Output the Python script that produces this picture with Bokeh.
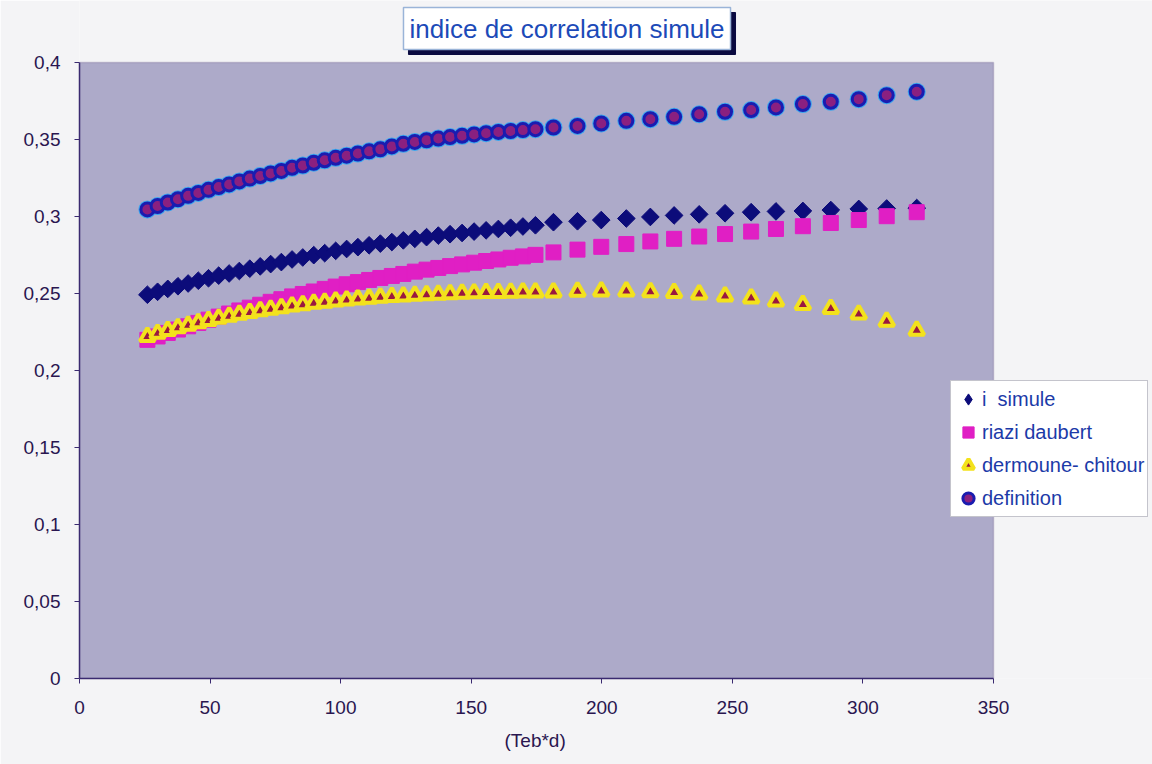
import numpy as np
from bokeh.plotting import figure
from bokeh.models import (Range1d, FixedTicker, CustomJSTickFormatter, Legend,
                          LegendItem, Label, BoxAnnotation, Title)
from bokeh.embed import file_html
from bokeh.resources import INLINE

# ---------------- data ----------------
teb_d = [26.0, 29.9, 33.8, 37.7, 41.6, 45.5, 49.4, 53.3, 57.3, 61.2, 65.2, 69.2,
         73.2, 77.3, 81.4, 85.5, 89.7, 93.9, 98.1, 102.3, 106.6, 110.9, 115.2, 119.6,
         124.0, 128.4, 132.9, 137.4, 141.9, 146.5, 151.1, 155.7, 160.4, 165.1, 169.8, 174.6,
         181.5, 190.7, 199.8, 209.4, 218.6, 227.7, 237.3, 247.2, 257.2, 266.7, 277.0,
         287.7, 298.4, 309.1, 320.6]

i_simule = [0.2492, 0.2511, 0.2530, 0.2547, 0.2565, 0.2583, 0.2599, 0.2616, 0.2630,
            0.2646, 0.2661, 0.2676, 0.2691, 0.2704, 0.2721, 0.2734, 0.2749, 0.2762,
            0.2777, 0.2789, 0.2801, 0.2813, 0.2824, 0.2834, 0.2845, 0.2855, 0.2866,
            0.2876, 0.2885, 0.2893, 0.2902, 0.2910, 0.2919, 0.2927, 0.2935, 0.2943,
            0.2963, 0.2969, 0.2977, 0.2987, 0.2997, 0.3007, 0.3014, 0.3021, 0.3028,
            0.3033, 0.3036, 0.3042, 0.3049, 0.3052, 0.3055]

riazi_daubert = [0.2199, 0.2221, 0.2244, 0.2266, 0.2287, 0.2309, 0.2330, 0.2350, 0.2370,
                 0.2390, 0.2408, 0.2427, 0.2446, 0.2463, 0.2481, 0.2497, 0.2513, 0.2530,
                 0.2545, 0.2560, 0.2574, 0.2588, 0.2601, 0.2614, 0.2627, 0.2642, 0.2655,
                 0.2666, 0.2678, 0.2689, 0.2700, 0.2711, 0.2721, 0.2732, 0.2741, 0.2751,
                 0.2767, 0.2785, 0.2803, 0.2821, 0.2838, 0.2855, 0.2870, 0.2886, 0.2902,
                 0.2919, 0.2937, 0.2958, 0.2977, 0.3002, 0.3028]

dermoune_chitour = [0.2220, 0.2240, 0.2258, 0.2276, 0.2293, 0.2309, 0.2324, 0.2338, 0.2351,
                    0.2364, 0.2376, 0.2387, 0.2397, 0.2407, 0.2417, 0.2426, 0.2435, 0.2442,
                    0.2450, 0.2456, 0.2463, 0.2468, 0.2474, 0.2479, 0.2483, 0.2487, 0.2491,
                    0.2494, 0.2498, 0.2500, 0.2503, 0.2505, 0.2506, 0.2507, 0.2509, 0.2509,
                    0.2509, 0.2513, 0.2515, 0.2515, 0.2511, 0.2505, 0.2495, 0.2483, 0.2469,
                    0.2450, 0.2427, 0.2401, 0.2365, 0.2319, 0.2261]

definition = [0.3046, 0.3068, 0.3091, 0.3112, 0.3134, 0.3153, 0.3173, 0.3191, 0.3208,
              0.3228, 0.3246, 0.3263, 0.3280, 0.3296, 0.3316, 0.3331, 0.3349, 0.3365,
              0.3381, 0.3395, 0.3409, 0.3423, 0.3436, 0.3455, 0.3472, 0.3484, 0.3495,
              0.3506, 0.3516, 0.3524, 0.3533, 0.3541, 0.3549, 0.3555, 0.3561, 0.3567,
              0.3578, 0.3588, 0.3604, 0.3621, 0.3632, 0.3647, 0.3664, 0.3680, 0.3691,
              0.3708, 0.3730, 0.3745, 0.3762, 0.3788, 0.3810]

x_ticks = [0, 50, 100, 150, 200, 250, 300, 350]
y_ticks = [0, 0.05, 0.1, 0.15, 0.2, 0.25, 0.3, 0.35, 0.4]

series_names = ["i  simule", "riazi daubert", "dermoune- chitour", "definition"]
title_text = "indice de correlation simule"
x_label = "(Teb*d)"

# ---------------- layout geometry ----------------
W, H = 1152, 764
LEFT, BOTTOM = 79, 86
PLOT_W, PLOT_H = 914, 616            # size of the grey plot area in px
FRAME_W, FRAME_H = W - LEFT, H - BOTTOM

x0, x1 = x_ticks[0], x_ticks[-1]
y0, y1 = y_ticks[0], y_ticks[-1]
# the frame extends right and up beyond the grey plot area so that the title
# and the legend (which overlap the border area) are not clipped
x_end = x0 + (x1 - x0) * FRAME_W / PLOT_W
y_end = y0 + (y1 - y0) * FRAME_H / PLOT_H

FONT = "Liberation Sans"
TXT = "#2a1650"
PAGE = "#f4f4f6"

p = figure(width=W, height=H, output_backend="svg", toolbar_location=None,
           x_range=Range1d(x0, x_end), y_range=Range1d(y0, y_end))
p.min_border_left = LEFT
p.min_border_right = 0
p.min_border_top = 0
p.min_border_bottom = BOTTOM

p.background_fill_color = PAGE
p.border_fill_color = PAGE
p.outline_line_color = None
p.grid.visible = False

plot_area = BoxAnnotation(left=x0, right=x1, bottom=y0, top=y1,
                          fill_color="#adaac9", fill_alpha=1.0,
                          line_color="#6a5c8c", line_width=1.5, level="underlay")
p.add_layout(plot_area)

for ax in (p.xaxis[0], p.yaxis[0]):
    ax.axis_line_color = "#3a2a70"
    ax.axis_line_width = 1.5
    ax.major_tick_line_color = "#3a2a70"
    ax.major_tick_out = 5
    ax.major_tick_in = 0
    ax.minor_tick_out = 0
    ax.minor_tick_in = 0
    ax.major_label_text_font = FONT
    ax.major_label_text_font_size = "19px"
    ax.major_label_text_color = TXT

p.xaxis.bounds = (x0, x1)
p.yaxis.bounds = (y0, y1)
p.xaxis.ticker = FixedTicker(ticks=x_ticks)
p.yaxis.ticker = FixedTicker(ticks=y_ticks)
p.yaxis.formatter = CustomJSTickFormatter(code="""
    let s = tick.toFixed(2);
    s = s.replace(/0+$/, '').replace(/\\.$/, '');
    return s.replace('.', ',');
""")
p.xaxis.major_label_standoff = 17
p.yaxis.major_label_standoff = 14

# x-axis title, centred under the grey plot area (not under the wider frame)
xtitle = Title(text=x_label, align="left", offset=PLOT_W / 2 - 32, standoff=23,
               text_font=FONT, text_font_style="normal", text_font_size="19px",
               text_color=TXT)
p.add_layout(xtitle, "below")

# ---------------- markers ----------------
# legend key for "i simule": a diamond marker hidden beneath the plotted points
r_dia_key = p.scatter(teb_d, i_simule, marker="diamond", size=11,
                      fill_color="#0c0c7a", line_color="#0c0c7a", line_width=1)
r_dia = p.scatter(teb_d, i_simule, marker="square", angle=np.pi / 4, size=12.5,
                  fill_color="#0c0c7a", line_color="#0c0c7a", line_width=1)

r_sq = p.scatter(teb_d, riazi_daubert, marker="square", size=15,
                 fill_color="#e01fc4", line_color="#e01fc4", line_width=1)

r_tri = p.scatter(teb_d, dermoune_chitour, marker="triangle", size=15,
                  fill_color="#9a1840", line_color="#f3e21c", line_width=4)

r_halo = p.scatter(teb_d, definition, marker="circle", size=18,
                   fill_color="#3aa6ee", line_color=None)
r_circ = p.scatter(teb_d, definition, marker="circle", size=13,
                   fill_color="#8a2080", line_color="#1a1cb0", line_width=3)

legend = Legend(items=[
    LegendItem(label=series_names[0], renderers=[r_dia_key]),
    LegendItem(label=series_names[1], renderers=[r_sq]),
    LegendItem(label=series_names[2], renderers=[r_tri]),
    LegendItem(label=series_names[3], renderers=[r_halo, r_circ]),
], location=(871, 161))
legend.background_fill_color = "white"
legend.background_fill_alpha = 1.0
legend.border_line_color = "#8a8a9a"
legend.border_line_width = 1
legend.label_text_font = FONT
legend.label_text_font_size = "20px"
legend.label_text_color = "#1c3aa8"
legend.glyph_width = 28
legend.glyph_height = 30
legend.label_standoff = 0
legend.padding = 3
legend.spacing = 3
legend.margin = 0
p.add_layout(legend, "center")

# ---------------- title box with shadow ----------------
shadow = Label(x=492.5, y=645, x_units="screen", y_units="screen", text=title_text,
               text_font=FONT, text_font_size="26px", text_color="#0a0a40",
               text_align="center", text_baseline="middle",
               background_fill_color="#0a0a40", border_line_color="#0a0a40",
               padding=6)
title = Label(x=487.5, y=650, x_units="screen", y_units="screen", text=title_text,
              text_font=FONT, text_font_size="26px", text_color="#1c4ab8",
              text_align="center", text_baseline="middle",
              background_fill_color="white", border_line_color="#9ab4d8",
              border_line_width=1.5, padding=6)
p.add_layout(shadow)
p.add_layout(title)

open("out.html", "w").write(file_html(p, INLINE))
